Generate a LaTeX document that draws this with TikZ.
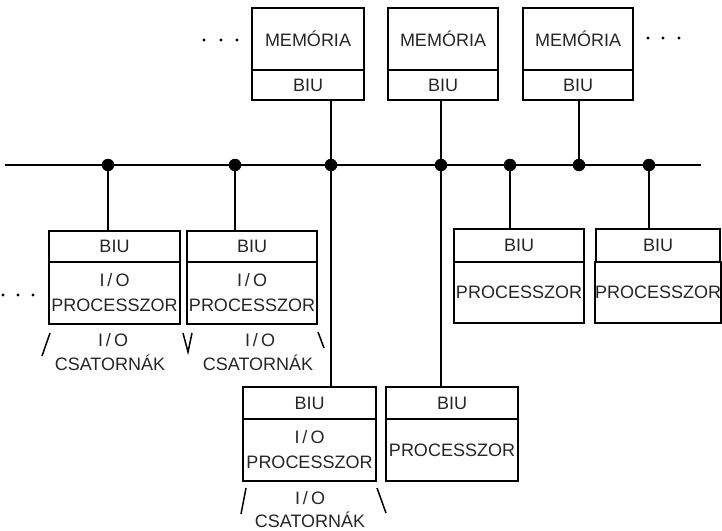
\documentclass[tikz,border=0pt]{standalone}
\usepackage{fontspec}
\setmainfont{Liberation Sans}
\usetikzlibrary{calc}
\begin{document}
\begin{tikzpicture}[x=1pt,y=-1pt,
  box/.style={draw, line width=2pt, inner sep=0pt, align=center,
    font=\fontsize{18}{25}\selectfont, text=black!85},
  wire/.style={line width=1.5pt},
  busdot/.style={circle, fill, inner sep=0pt, minimum size=12.5pt},
  lbl/.style={inner sep=0pt, font=\fontsize{18}{20}\selectfont, text=black!85},
  elip/.style={fill, radius=1.7pt}]
\useasboundingbox[fill=white] (0,0) rectangle (722,530);

% memory modules
\node[box, minimum width=112, minimum height=62] (m1) at (308,39) {MEMÓRIA};
\node[box, minimum width=112, minimum height=30] (m1b) at (308,85) {BIU};
\node[box, minimum width=110, minimum height=62] (m2) at (443,39) {MEMÓRIA};
\node[box, minimum width=110, minimum height=30] (m2b) at (443,85) {BIU};
\node[box, minimum width=110, minimum height=62] (m3) at (578,39) {MEMÓRIA};
\node[box, minimum width=110, minimum height=30] (m3b) at (578,85) {BIU};

% I/O processors (row 1)
\node[box, minimum width=131, minimum height=31] (io1b) at (114.5,246.5) {BIU};
\node[box, minimum width=131, minimum height=62] (io1) at (114.5,293) {I\,/\,O\\PROCESSZOR};
\node[box, minimum width=130, minimum height=31] (io2b) at (252,246.5) {BIU};
\node[box, minimum width=130, minimum height=62] (io2) at (252,293) {I\,/\,O\\PROCESSZOR};

% processors (row 1)
\node[box, minimum width=130, minimum height=33] (p1b) at (519,245.5) {BIU};
\node[box, minimum width=130, minimum height=61] (p1) at (519,292.5) {PROCESSZOR};
\node[box, minimum width=124, minimum height=33] (p2b) at (658,245.5) {BIU};
\node[box, minimum width=124, minimum height=61] (p2) at (658,292.5) {PROCESSZOR};

% bottom row
\node[box, minimum width=133, minimum height=32] (io3b) at (309.5,403) {BIU};
\node[box, minimum width=133, minimum height=62] (io3) at (309.5,450) {I\,/\,O\\PROCESSZOR};
\node[box, minimum width=132, minimum height=32] (p3b) at (452,403) {BIU};
\node[box, minimum width=132, minimum height=62] (p3) at (452,450) {PROCESSZOR};

% bus
\coordinate (busL) at (5,165);
\coordinate (busR) at (701,165);
\draw[wire] (busL) -- (busR);
\node[busdot] (d1) at (108,165) {};
\node[busdot] (d2) at (235,165) {};
\node[busdot] (d3) at (331,165) {};
\node[busdot] (d4) at (441,165) {};
\node[busdot] (d5) at (510,165) {};
\node[busdot] (d6) at (579,165) {};
\node[busdot] (d7) at (649,165) {};

% connectors
\draw[wire] (d3 |- m1b.south) -- (d3) -- (d3 |- io3b.north);
\draw[wire] (d4 |- m2b.south) -- (d4) -- (d4 |- p3b.north);
\draw[wire] (d6 |- m3b.south) -- (d6);
\draw[wire] (d1) -- (d1 |- io1b.north);
\draw[wire] (d2) -- (d2 |- io2b.north);
\draw[wire] (d5) -- (d5 |- p1b.north);
\draw[wire] (d7) -- (d7 |- p2b.north);

% I/O channel marks
\draw[wire] ($(io1.south west)+(2,8)$) -- ++(-8,23);
\draw[wire] ($(io1.south east)+(2,8)$) -- (188,352) -- ($(io2.south west)+(6,8)$);
\draw[wire] ($(io2.south east)+(0,7)$) -- ++(6,16);
\draw[wire] ($(io3.south west)+(4,6)$) -- ++(-5,26);
\draw[wire] ($(io3.south east)+(0,6)$) -- ++(9,25);

\node[lbl] (c1a) at (113,340) {I\,/\,O};
\node[lbl] (c1b) at (110,363) {CSATORNÁK};
\node[lbl] (c2a) at (260,340) {I\,/\,O};
\node[lbl] (c2b) at (258,363) {CSATORNÁK};
\node[lbl] (c3a) at (310,498) {I\,/\,O};
\node[lbl] (c3b) at (310,520) {CSATORNÁK};

% ellipses
\fill[elip] (204,40) circle[] (221,40) circle[] (237,40) circle[];
\fill[elip] (648,38) circle[] (663,38) circle[] (679,38) circle[];
\fill[elip] (3,295) circle[] (18,295) circle[] (33,295) circle[];
\end{tikzpicture}
\end{document}
